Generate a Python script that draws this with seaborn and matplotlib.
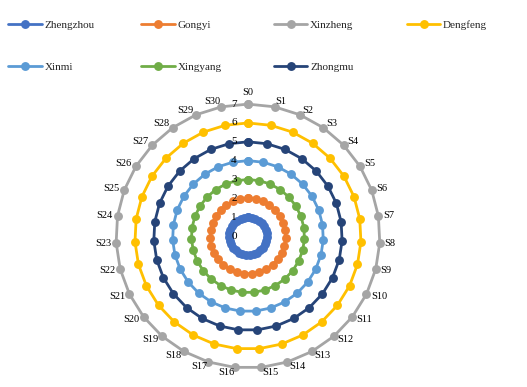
import numpy as np
import matplotlib
matplotlib.use('Agg')
import matplotlib.pyplot as plt
import seaborn as sns

# categories around the radar
categories = ['S' + str(i) for i in range(31)]

# one constant value per series
series_names = ['Zhengzhou', 'Gongyi', 'Xinzheng', 'Dengfeng', 'Xinmi', 'Xingyang', 'Zhongmu']
series_values = [1, 2, 7, 6, 4, 3, 5]
series_colors = ['#4472C4', '#ED7D31', '#A5A5A5', '#FFC000', '#5B9BD5', '#70AD47', '#264478']
radial_ticks = [0, 1, 2, 3, 4, 5, 6, 7]

sns.set_theme(style='white')
plt.rcParams['font.family'] = ['Liberation Serif', 'DejaVu Serif']

fig = plt.figure(figsize=(5.27, 3.87), dpi=100)
ax = fig.add_axes([0.220, 0.049, 0.501, 0.682], projection='polar')
ax.set_theta_offset(np.pi / 2)
ax.set_theta_direction(-1)

n = len(categories)
angles = np.linspace(0, 2 * np.pi, n, endpoint=False)
angles_closed = np.append(angles, 2 * np.pi)

handles = []
for name, val, col in zip(series_names, series_values, series_colors):
    r = np.full(n + 1, val, dtype=float)
    sns.lineplot(x=angles_closed, y=r, ax=ax, color=col, sort=False, errorbar=None,
                 marker='o', markersize=6.4, markeredgewidth=0, linewidth=2.0,
                 legend=False, clip_on=False)
    handles.append(ax.lines[-1])

ax.set_ylim(0, 7)
ax.set_yticks(radial_ticks)
ax.set_yticklabels([])
for t in radial_ticks:
    ax.annotate(str(t), xy=(0, t), xytext=(-14, 0), textcoords='offset pixels',
                ha='center', va='center', fontsize=8, color='black')

# category labels sit just outside the outer ring, Excel-style
ax.set_xticks(angles)
ax.set_xticklabels([])
r_max = ax.get_ylim()[1]
for a, lab in zip(angles, categories):
    s, c = np.sin(a), np.cos(a)
    if abs(s) < 0.01:
        ha, off = 'center', (0, 12)
    else:
        ha, off = ('left' if s > 0 else 'right'), (5 * s, 5 * c)
    ax.annotate(lab, xy=(a, r_max), xytext=off, textcoords='offset pixels',
                ha=ha, va='center', fontsize=7.5, color='black', annotation_clip=False)
ax.grid(False)
ax.spines['polar'].set_visible(False)

# legend: four fixed-width columns, filled row by row
col_x = [0.016, 0.268, 0.520, 0.772]
for c, x in enumerate(col_x):
    idx = [i for i in (c, c + 4) if i < len(series_names)]
    fig.legend([handles[i] for i in idx], [series_names[i] for i in idx],
               loc='upper left', bbox_to_anchor=(x, 0.947), ncol=1, frameon=False,
               fontsize=8, handlelength=3.0, handletextpad=0.25,
               labelspacing=2.9, borderaxespad=0, borderpad=0)

fig.savefig('out.png', dpi=100)
